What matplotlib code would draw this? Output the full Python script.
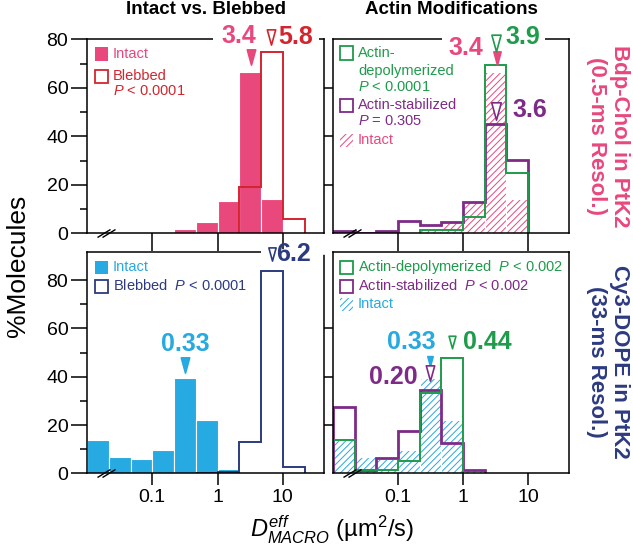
import numpy as np
import matplotlib
matplotlib.use("Agg")
import matplotlib.pyplot as plt
import matplotlib.transforms as mtransforms
from matplotlib.path import Path
from matplotlib.patches import Rectangle
from matplotlib.ticker import NullLocator

plt.rcParams["font.family"] = ["Liberation Sans", "DejaVu Sans"]
plt.rcParams["mathtext.fontset"] = "custom"
plt.rcParams["mathtext.rm"] = "Liberation Sans"
plt.rcParams["mathtext.it"] = "Liberation Sans:italic"
plt.rcParams["mathtext.bf"] = "Liberation Sans:bold"
plt.rcParams["hatch.linewidth"] = 0.7

# 1/3-decade bins starting at 0.01 um2/s
bin_edges = 10 ** (np.arange(-6, 5) / 3)

# Bdp-Chol in PtK2 (0.5-ms), %molecules per bin
bdp_intact = [0, 0, 0, 0, 1.6, 4.8, 13.5, 66.7, 14.2, 0]
bdp_blebbed = [0, 0, 0, 0, 0, 0, 0, 19.2, 74.9, 5.9]
bdp_depol = [0, 0, 0, 0, 1.2, 1.4, 6.8, 69.5, 25.0, 0]
bdp_stab = [0.8, 0, 0.8, 4.9, 3.4, 4.7, 13.0, 44.9, 30.2, 0]

# Cy3-DOPE in PtK2 (33-ms)
dope_intact = [13.8, 6.6, 5.9, 9.7, 39.6, 22.1, 1.7, 0, 0, 0]
dope_blebbed = [0, 0, 0, 0, 0, 0.3, 0.4, 13.0, 83.7, 2.5]
dope_depol = [13.7, 1.4, 1.4, 5.1, 33.3, 47.6, 0, 0, 0, 0]
dope_stab = [27.4, 1.4, 6.4, 17.4, 34.7, 12.6, 1.4, 0, 0, 0]

# mean values and where their arrowheads sit (D, %)
tl_means = ["3.4", "5.8"]
tl_heads = [(3.2, 72.5), (6.6, 80.9)]
tr_means = ["3.4", "3.9", "3.6"]
tr_heads = [(3.3, 72.1), (3.25, 78.3), (3.2, 50.4)]
bl_means = ["0.33", "6.2"]
bl_heads = [(0.316, 44.8), (6.9, 91.0)]
br_means = ["0.33", "0.20", "0.44"]
br_heads = [(0.31, 46.5), (0.314, 41.7), (0.68, 54.4)]

pink = "#E8487C"
red = "#D3252E"
blue = "#27A9E1"
navy = "#2C3B80"
green = "#1E9B4B"
purple = "#7E2B87"

W, H = 633, 551
fig = plt.figure(figsize=(W / 100, H / 100), dpi=100)


def add_axes(l, t, r, b):
    return fig.add_axes([l / W, 1 - b / H, (r - l) / W, (b - t) / H])


ax_tl = add_axes(87, 39.3, 324, 233.3)
ax_tr = add_axes(333, 39.3, 569, 233.3)
ax_bl = add_axes(87, 251.7, 324, 473.3)
ax_br = add_axes(333, 251.7, 569, 473.3)

tri = Path([(-0.55, 1), (0.55, 1), (0, -1), (-0.55, 1)],
           [Path.MOVETO, Path.LINETO, Path.LINETO, Path.CLOSEPOLY])
brk = Path([(-9, -4), (4, 4), (-4, -4), (9, 4)],
           [Path.MOVETO, Path.LINETO, Path.MOVETO, Path.LINETO])


def filled(ax, vals, color):
    ax.bar(bin_edges[:-1], vals, width=np.diff(bin_edges), align="edge",
           color=color, edgecolor="white", linewidth=0.8, zorder=1)


def hatched(ax, vals, color):
    ax.bar(bin_edges[:-1], vals, width=np.diff(bin_edges), align="edge",
           facecolor="none", edgecolor=color, hatch="/////", linewidth=0, zorder=1)
    ax.bar(bin_edges[:-1], vals, width=np.diff(bin_edges), align="edge",
           fill=False, edgecolor="white", linewidth=0.8, zorder=1.1)


def outline(ax, vals, color, lw=1.4):
    nz = np.nonzero(vals)[0]
    i0, i1 = nz[0], nz[-1]
    ax.stairs(vals[i0:i1 + 1], bin_edges[i0:i1 + 2], baseline=0, fill=False,
              color=color, linewidth=lw, zorder=2)


def head(ax, xy, color, solid, text, dx, dy, ha="center", size=11):
    ax.plot(*xy, marker=tri, markersize=size, color=color,
            markerfacecolor=color if solid else "white",
            markeredgewidth=1.2, clip_on=False, zorder=6)
    ax.annotate(text, xy=xy, xytext=(dx, dy), textcoords="offset points",
                ha=ha, va="center", fontsize=18, fontweight="bold",
                color=color, annotation_clip=False, zorder=7)


def gap(ax, x0, x1, y=1):
    tr = mtransforms.blended_transform_factory(ax.transData, ax.transAxes)
    ax.plot([x0, x1], [y, y], transform=tr, color="white", lw=4,
            solid_capstyle="butt", clip_on=False, zorder=2.6)


def key(x, y, fc, ec, hatch=None, lw=1.3):
    fig.add_artist(Rectangle(((x - 6.5) / W, 1 - (y + 6.5) / H), 13 / W, 13 / H,
                             transform=fig.transFigure, facecolor=fc,
                             edgecolor=ec, hatch=hatch, linewidth=lw))


def ftext(x, y, s, color, **kw):
    fig.text(x / W, 1 - y / H, s, color=color, fontsize=10.5, va="center", **kw)


# panels
filled(ax_tl, bdp_intact, pink)
outline(ax_tl, np.array(bdp_blebbed), red)

hatched(ax_tr, bdp_intact, pink)
outline(ax_tr, np.array(bdp_stab), purple, lw=2.0)
outline(ax_tr, np.array(bdp_depol), green)

filled(ax_bl, dope_intact, blue)
outline(ax_bl, np.array(dope_blebbed), navy)

hatched(ax_br, dope_intact, blue)
outline(ax_br, np.array(dope_stab), purple, lw=2.0)
outline(ax_br, np.array(dope_depol), green)

for ax, top in [(ax_tl, 80), (ax_tr, 80), (ax_bl, 91.8), (ax_br, 91.8)]:
    ax.set_xscale("log")
    ax.set_xlim(bin_edges[0], 10 ** 1.63)
    ax.set_ylim(0, top)
    ax.set_xticks([0.1, 1, 10])
    ax.xaxis.set_minor_locator(NullLocator())
    for s in ax.spines.values():
        s.set_linewidth(1.1)
    ax.plot(0.0195, 0, marker=brk, markersize=13, color="black",
            markeredgewidth=1.0, clip_on=False, zorder=5)

for ax in (ax_tl, ax_bl):
    ax.set_yticks([0, 20, 40, 60, 80])
    ax.set_yticks([10, 30, 50, 70], minor=True)
    ax.tick_params(axis="y", which="major", direction="out", length=11.5,
                   width=1.1, labelsize=14, pad=2)
    ax.tick_params(axis="y", which="minor", direction="out", length=5, width=1.1)
for ax in (ax_tr, ax_br):
    ax.set_yticks([20, 40, 60])
    ax.yaxis.set_minor_locator(NullLocator())
    ax.tick_params(axis="y", direction="out", length=6.5, width=1.1,
                   labelleft=False)
for ax in (ax_tl, ax_tr):
    ax.tick_params(axis="x", direction="out", length=13, width=1.1,
                   labelbottom=False)
for ax in (ax_bl, ax_br):
    ax.set_xticklabels(["0.1", "1", "10"])
    ax.tick_params(axis="x", direction="out", length=8.6, width=1.1,
                   labelsize=14, pad=3)

# breaks in the top spines for the labels
gap(ax_tl, 0.84, 36)
gap(ax_tr, 0.475, 18.5)
gap(ax_bl, 4.6, 100)

# mean markers
head(ax_tl, tl_heads[0], pink, True, tl_means[0], -8.6, 15.5)
head(ax_tl, tl_heads[1], red, False, tl_means[1], 5, 0, ha="left")
head(ax_tr, tr_heads[0], pink, True, tr_means[0], -22, 7.2, size=9.5)
head(ax_tr, tr_heads[1], green, False, tr_means[1], 6.7, 4.9, ha="left", size=12)
head(ax_tr, tr_heads[2], purple, False, tr_means[2], 12.2, 0.7, ha="left", size=12.5)
head(ax_bl, bl_heads[0], blue, True, bl_means[0], 0, 15)
head(ax_bl, bl_heads[1], navy, False, bl_means[1], 3, 0, ha="left", size=9.5)
head(ax_br, br_heads[0], blue, True, br_means[0], -13.3, 13.9, size=7)
head(ax_br, br_heads[1], purple, False, br_means[1], -9.4, -3, ha="right")
head(ax_br, br_heads[2], green, False, br_means[2], 8, 0, ha="left", size=9)

# legends
key(101.5, 54, pink, pink, lw=0)
ftext(113, 54, "Intact", pink)
key(101.5, 76, "white", red)
ftext(113, 76, "Blebbed", red)
ftext(113, 91, "$P$ < 0.0001", red)

key(346, 53, "white", green)
ftext(358, 53, "Actin-", green)
ftext(358, 71, "depolymerized", green)
ftext(358, 87, "$P$ < 0.0001", green)
key(346, 105, "white", purple)
ftext(358, 105, "Actin-stabilized", purple)
ftext(358, 121, "$P$ = 0.305", purple)
key(346, 140, "white", pink, hatch="/////", lw=0)
ftext(358, 140, "Intact", pink)

key(101.5, 267, blue, blue, lw=0)
ftext(113, 267, "Intact", blue)
key(101.5, 286, "white", navy)
ftext(113, 286, "Blebbed  $P$ < 0.0001", navy)

key(346, 267, "white", green)
ftext(358, 267, "Actin-depolymerized  $P$ < 0.002", green)
key(346, 286, "white", purple)
ftext(358, 286, "Actin-stabilized  $P$ < 0.002", purple)
key(346, 304, "white", blue, hatch="/////", lw=0)
ftext(358, 304, "Intact", blue)

# titles and axis labels
fig.text(205.5 / W, 1 - 10 / H, "Intact vs. Blebbed", ha="center", va="center",
         fontsize=13.5, fontweight="bold")
fig.text(451 / W, 1 - 10 / H, "Actin Modifications", ha="center", va="center",
         fontsize=13.5, fontweight="bold")
fig.text(18 / W, 1 - 266 / H, "%Molecules", rotation=90, ha="center",
         va="center", fontsize=19)
fig.text(332 / W, 1 - 530 / H, r"$D^{eff}_{MACRO}$ (µm$^2$/s)", ha="center",
         va="center", fontsize=17)
fig.text(608 / W, 1 - 136 / H, "Bdp-Chol in PtK2\n(0.5-ms Resol.)", rotation=270,
         ha="center", va="center", fontsize=16, fontweight="bold", color=pink,
         linespacing=1.15)
fig.text(608 / W, 1 - 362 / H, "Cy3-DOPE in PtK2\n(33-ms Resol.)", rotation=270,
         ha="center", va="center", fontsize=16, fontweight="bold", color=navy,
         linespacing=1.15)

fig.savefig("out.png", dpi=100)
